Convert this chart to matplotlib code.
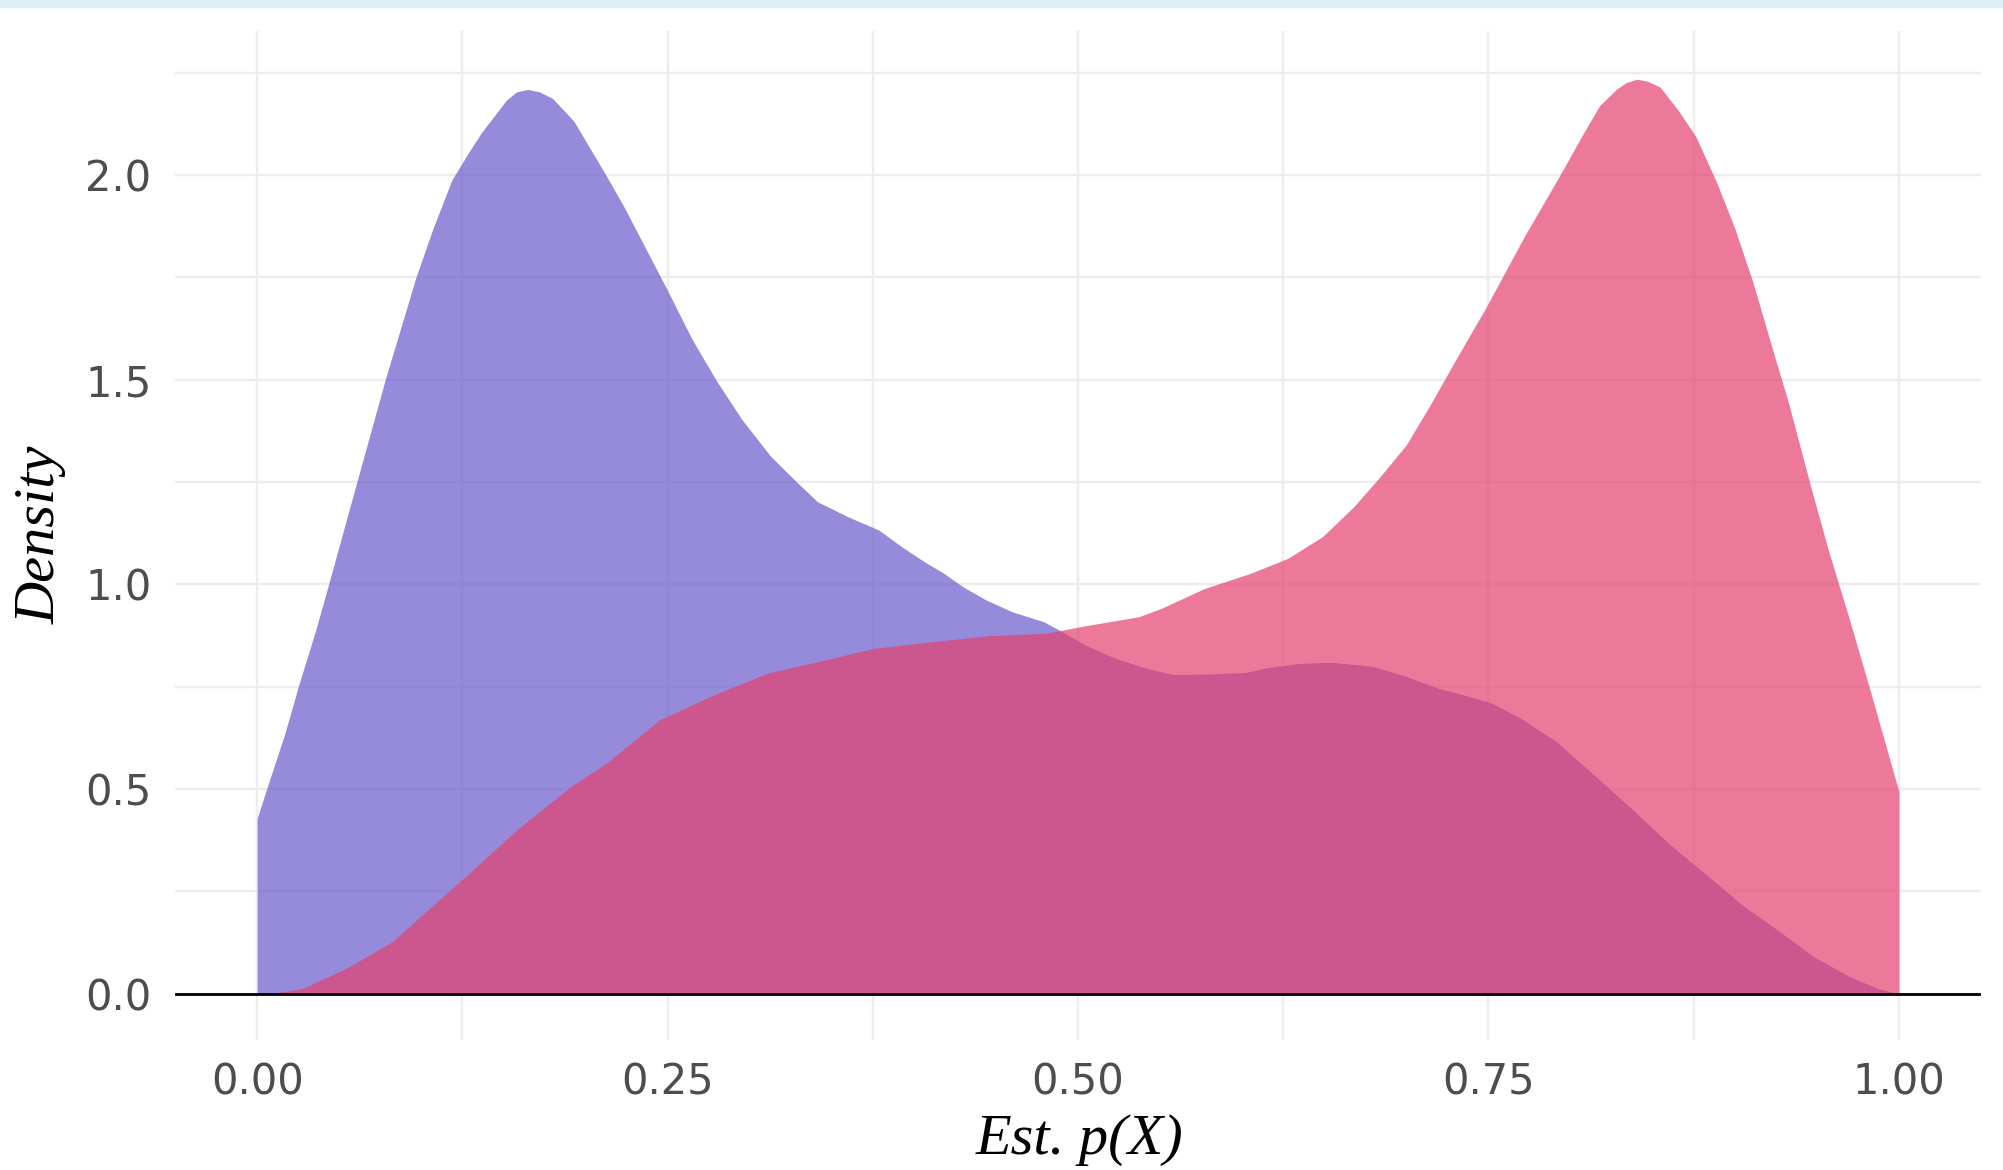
import matplotlib
matplotlib.use('Agg')
import matplotlib.pyplot as plt
from matplotlib.patches import Rectangle

# density curve (x = Est. p(X), y = density)
blue_x = [0.0, 0.0082, 0.0169, 0.0256, 0.0357, 0.0435, 0.0607, 0.078, 0.0967, 0.1068,
          0.1186, 0.128, 0.1365, 0.1518, 0.158, 0.1648, 0.172, 0.180, 0.193, 0.2127,
          0.2236, 0.2388, 0.2497, 0.265, 0.280, 0.2954, 0.3128, 0.328, 0.3413, 0.36,
          0.3786, 0.3926, 0.4066, 0.4183, 0.43, 0.444, 0.460, 0.479, 0.4905, 0.5045,
          0.523, 0.542, 0.558, 0.579, 0.602, 0.616, 0.635, 0.654, 0.672, 0.6805,
          0.700, 0.7197, 0.735, 0.752, 0.7697, 0.7914, 0.813, 0.837, 0.861, 0.883,
          0.9046, 0.926, 0.948, 0.970, 0.987, 1.0]
blue_y = [0.429, 0.530, 0.636, 0.758, 0.889, 1.0, 1.25, 1.5, 1.75, 1.866,
          1.988, 2.05, 2.103, 2.183, 2.203, 2.209, 2.203, 2.187, 2.131, 1.998,
          1.921, 1.804, 1.72, 1.598, 1.496, 1.402, 1.313, 1.2525, 1.202, 1.165,
          1.133, 1.092, 1.055, 1.027, 0.994, 0.962, 0.933, 0.909, 0.884, 0.852,
          0.819, 0.795, 0.780, 0.781, 0.785, 0.797, 0.807, 0.810, 0.803, 0.799,
          0.775, 0.746, 0.730, 0.710, 0.673, 0.616, 0.539, 0.453, 0.363, 0.29,
          0.217, 0.156, 0.091, 0.042, 0.013, 0.0]

pink_x = [0.0, 0.012, 0.0278, 0.056, 0.0822, 0.104, 0.1257, 0.158, 0.191, 0.2127,
          0.245, 0.278, 0.3106, 0.341, 0.376, 0.411, 0.446, 0.481, 0.5045, 0.537,
          0.551, 0.577, 0.605, 0.628, 0.649, 0.668, 0.6827, 0.700, 0.7153, 0.7305,
          0.748, 0.7588, 0.772, 0.7936, 0.8067, 0.8176, 0.8284, 0.834, 0.8404, 0.847,
          0.8545, 0.8654, 0.8763, 0.889, 0.900, 0.911, 0.924, 0.933, 0.946, 0.957,
          0.970, 0.983, 1.0]
pink_y = [0.0, 0.003, 0.013, 0.066, 0.127, 0.205, 0.282, 0.40, 0.506, 0.563,
          0.669, 0.73, 0.783, 0.811, 0.844, 0.860, 0.875, 0.881, 0.899, 0.921,
          0.942, 0.990, 1.027, 1.064, 1.117, 1.19, 1.257, 1.341, 1.444, 1.552,
          1.673, 1.753, 1.851, 2.0, 2.094, 2.169, 2.211, 2.226, 2.234, 2.229,
          2.215, 2.159, 2.094, 1.982, 1.87, 1.739, 1.561, 1.44, 1.243, 1.084,
          0.913, 0.734, 0.494]

x_ticks = [0.0, 0.25, 0.5, 0.75, 1.0]
x_labels = ['0.00', '0.25', '0.50', '0.75', '1.00']
y_ticks = [0.0, 0.5, 1.0, 1.5, 2.0]
y_labels = ['0.0', '0.5', '1.0', '1.5', '2.0']

fig = plt.figure(figsize=(20.03, 11.7), dpi=100)
# thin light-blue strip along the top edge
fig.patches.append(Rectangle((0, 1 - 7 / 1170.), 1, 7 / 1170., transform=fig.transFigure,
                             color='#dcf0f6', zorder=0))
ax = fig.add_axes([0.0874, 0.1114, 0.9016, 0.8622])

ax.fill_between(blue_x, 0, blue_y, color='#6a5acd', alpha=0.7, linewidth=0, zorder=2)
ax.fill_between(pink_x, 0, pink_y, color='#e4416f', alpha=0.7, linewidth=0, zorder=3)
ax.axhline(0, color='black', lw=2, zorder=4)

ax.set_xlim(-0.05, 1.05)
ax.set_ylim(-0.112, 2.352)
ax.set_xticks(x_ticks)
ax.set_xticklabels(x_labels)
ax.set_yticks(y_ticks)
ax.set_yticklabels(y_labels)
ax.set_xticks([0.125, 0.375, 0.625, 0.875], minor=True)
ax.set_yticks([0.25, 0.75, 1.25, 1.75, 2.25], minor=True)
ax.set_axisbelow(True)
ax.grid(which='both', color='#ededed', lw=1.7)
ax.tick_params(which='both', length=0, labelsize=30, labelcolor='#4d4d4d')
ax.tick_params(axis='x', pad=16)
ax.tick_params(axis='y', pad=17)
for s in ax.spines.values():
    s.set_visible(False)

fig.text(0.539, 0.0256, 'Est. p(X)', ha='center', va='center', fontsize=42,
         family='Liberation Serif', style='italic')
fig.text(0.0205, 0.543, 'Density', ha='center', va='center', rotation=90, fontsize=42,
         family='Liberation Serif', style='italic')

fig.savefig('out.png', dpi=100)
